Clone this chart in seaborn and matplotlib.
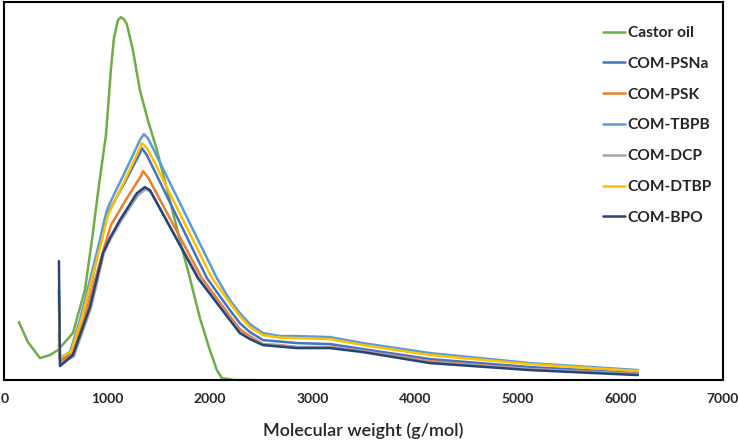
import pandas as pd
import seaborn as sns
import matplotlib.pyplot as plt

# values (MW in g/mol, signal in arbitrary units)
castor_mw = [141, 229, 346, 443, 521, 667, 784, 853, 921, 989, 1008, 1037, 1067, 1106, 1135, 1164, 1193,
             1252, 1320, 1398, 1486, 1612, 1710, 1807, 1905, 2002, 2070, 2119, 2246, 2441]
castor_y = [0.58, 0.38, 0.22, 0.25, 0.30, 0.47, 0.90, 1.40, 1.95, 2.45, 2.70, 3.10, 3.42, 3.60, 3.63, 3.61, 3.56,
            3.30, 2.90, 2.60, 2.30, 1.80, 1.40, 1.02, 0.62, 0.30, 0.10, 0.02, 0.0, 0.0]

psna_mw = [531, 541, 648, 755, 853, 940, 999, 1174, 1320, 1340, 1388, 1973, 2197, 2294, 2392, 2519, 2684,
           2850, 3172, 3493, 4146, 5120, 6172]
psna_y = [0.90, 0.20, 0.27, 0.62, 1.00, 1.40, 1.65, 1.98, 2.27, 2.32, 2.25, 1.02, 0.70, 0.57, 0.48, 0.40, 0.385,
          0.37, 0.36, 0.31, 0.21, 0.13, 0.07]

psk_mw = [531, 550, 658, 775, 882, 979, 1038, 1194, 1330, 1350, 1398, 1924, 2197, 2294, 2392, 2519, 2684,
          2850, 3172, 3493, 4146, 5120, 6172]
psk_y = [0.35, 0.19, 0.25, 0.60, 1.00, 1.35, 1.55, 1.82, 2.04, 2.09, 2.03, 1.02, 0.64, 0.51, 0.44, 0.36, 0.35,
         0.33, 0.33, 0.29, 0.19, 0.11, 0.06]

tbpb_mw = [531, 541, 638, 736, 833, 930, 969, 999, 1028, 1174, 1320, 1359, 1398, 1466, 2070, 2197, 2294, 2392,
           2519, 2684, 2850, 3172, 3493, 4146, 5120, 6172]
tbpb_y = [0.45, 0.22, 0.28, 0.60, 1.00, 1.40, 1.58, 1.70, 1.77, 2.08, 2.40, 2.46, 2.42, 2.28, 1.02, 0.80, 0.67, 0.56,
          0.47, 0.44, 0.44, 0.43, 0.37, 0.27, 0.17, 0.10]

dcp_mw = [531, 550, 677, 843, 969, 1038, 1135, 1301, 1379, 1427, 1895, 2197, 2294, 2392, 2519, 2684,
          2850, 3172, 3493, 4146, 5120, 6172]
dcp_y = [0.35, 0.16, 0.24, 0.72, 1.27, 1.42, 1.59, 1.85, 1.91, 1.88, 1.02, 0.61, 0.48, 0.42, 0.36, 0.345,
         0.33, 0.33, 0.29, 0.18, 0.11, 0.06]

dtbp_mw = [531, 541, 648, 755, 853, 950, 1008, 1174, 1320, 1340, 1388, 1437, 2022, 2197, 2294, 2392, 2519, 2684,
           2850, 3172, 3493, 4146, 5120, 6172]
dtbp_y = [0.77, 0.22, 0.28, 0.62, 1.02, 1.40, 1.65, 2.00, 2.32, 2.37, 2.32, 2.23, 1.02, 0.77, 0.64, 0.53, 0.45, 0.425,
          0.42, 0.41, 0.35, 0.25, 0.16, 0.09]

bpo_mw = [531, 541, 667, 833, 960, 1028, 1125, 1291, 1369, 1418, 1885, 2197, 2294, 2392, 2519, 2684,
          2850, 3172, 3493, 4146, 5120, 6172]
bpo_y = [1.19, 0.14, 0.25, 0.73, 1.27, 1.42, 1.60, 1.87, 1.93, 1.90, 1.02, 0.60, 0.47, 0.41, 0.35, 0.335,
         0.32, 0.32, 0.28, 0.17, 0.10, 0.05]

names = ['Castor oil', 'COM-PSNa', 'COM-PSK', 'COM-TBPB', 'COM-DCP', 'COM-DTBP', 'COM-BPO']
colors = ['#70AD47', '#4472C4', '#ED7D31', '#5B9BD5', '#A5A5A5', '#FFC000', '#264478']
series = [(castor_mw, castor_y), (psna_mw, psna_y), (psk_mw, psk_y), (tbpb_mw, tbpb_y),
          (dcp_mw, dcp_y), (dtbp_mw, dtbp_y), (bpo_mw, bpo_y)]

frames = []
for name, (mw, y) in zip(names, series):
    frames.append(pd.DataFrame({'MW': mw, 'Signal': y, 'Sample': name}))
df = pd.concat(frames, ignore_index=True)

sns.set_style('white')
plt.rcParams['font.family'] = ['Lato', 'DejaVu Sans']

fig = plt.figure(figsize=(7.39, 4.44), dpi=100)
ax = fig.add_axes([0.006, 0.144, 0.972, 0.851])

sns.lineplot(data=df, x='MW', y='Signal', hue='Sample', palette=dict(zip(names, colors)),
             hue_order=names, sort=False, estimator=None, linewidth=1.8, ax=ax)

ax.set_xlim(0, 7000)
ax.set_ylim(0, 3.78)
ticks = list(range(0, 7001, 1000))
ax.set_xticks(ticks, [str(t) for t in ticks], fontweight='bold', fontsize=10)
ax.set_yticks([])
ax.tick_params(axis='x', length=0, pad=9)
ax.set_ylabel('')
ax.set_xlabel('Molecular weight (g/mol)', fontsize=13, labelpad=13, fontweight='semibold')
for s in ax.spines.values():
    s.set_color('black')
    s.set_linewidth(1.5)

leg = ax.legend(loc='upper left', bbox_to_anchor=(0.833, 0.937), frameon=False,
                borderpad=0, borderaxespad=0,
                handlelength=1.41, handletextpad=0.2, labelspacing=1.08,
                prop={'weight': 'bold', 'size': 11.2})

fig.savefig('out.png', dpi=100)
